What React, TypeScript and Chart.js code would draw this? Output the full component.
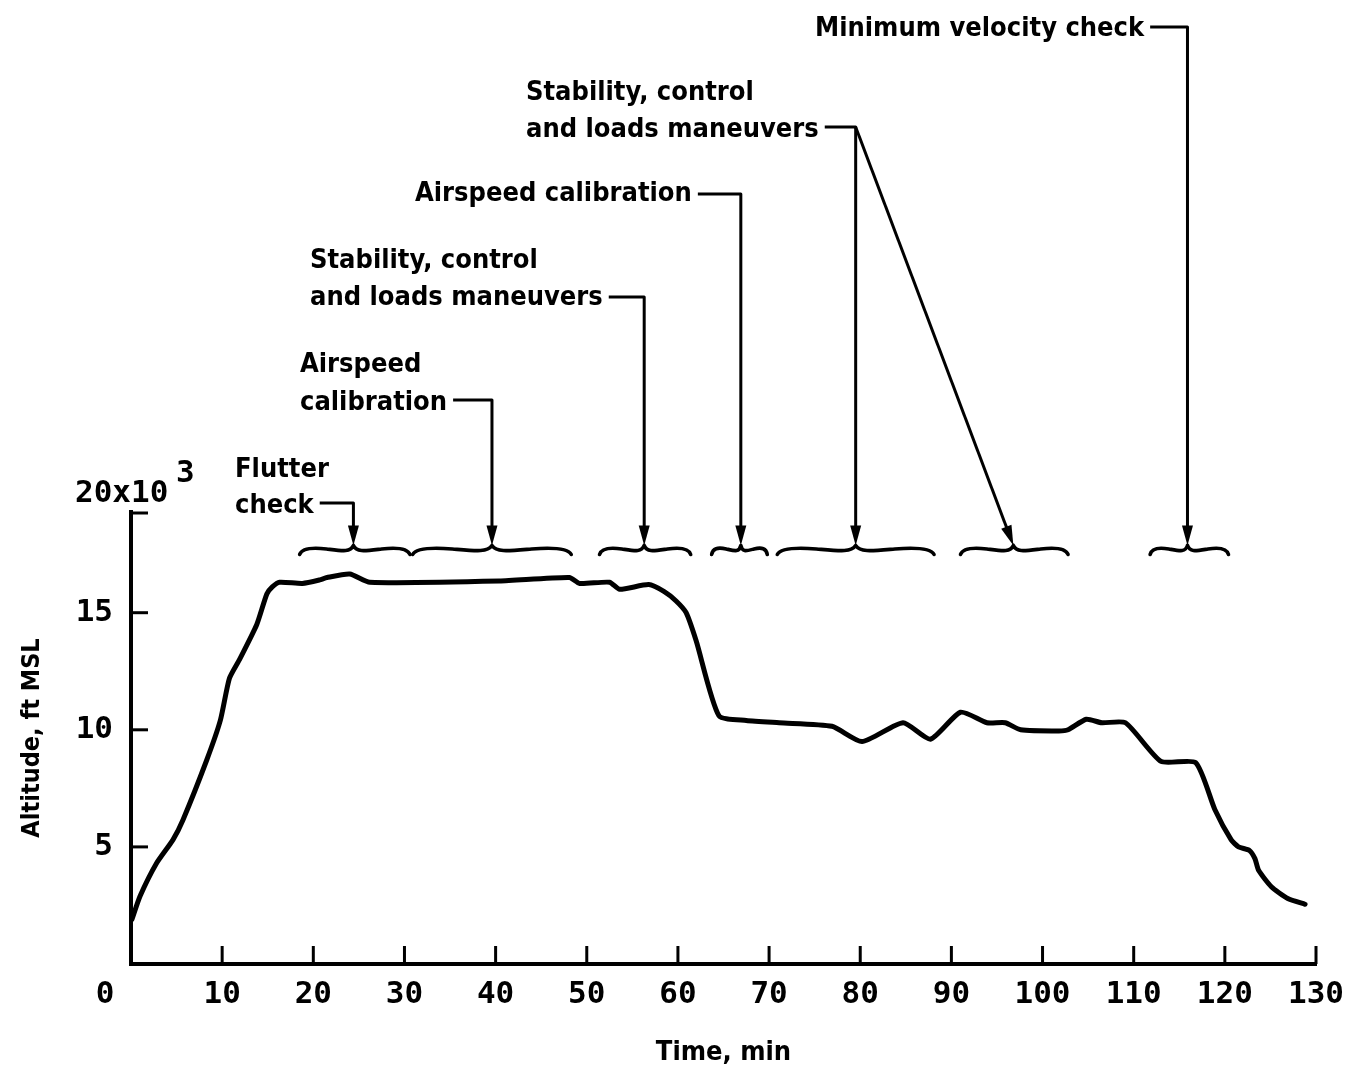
import React, { useEffect, useRef } from "react";
import { Chart, registerables } from "chart.js";

Chart.register(...registerables);

// ---- Data: flight altitude profile ----
const timeMin = [0.1, 1.0, 2.8, 4.6, 5.7, 8.3, 9.8, 10.8, 11.9, 13.8, 14.9, 15.5, 16.3, 18.8, 20.7, 21.5, 24.0, 26.2, 40.4, 48.1, 49.2, 52.5, 53.6, 56.8, 58.5, 59.8, 60.9, 62.0, 64.5, 67.5, 71.1, 76.9, 80.2, 84.7, 87.7, 91.0, 93.9, 95.9, 97.6, 101.8, 102.8, 104.8, 106.5, 109.1, 113.0, 116.8, 118.9, 120.7, 121.5, 122.7, 123.3, 123.7, 125.1, 126.9, 128.8];
const altitudeK = [1.9, 2.9, 4.3, 5.3, 6.15, 8.7, 10.4, 12.2, 13.0, 14.5, 15.8, 16.1, 16.3, 16.25, 16.4, 16.5, 16.65, 16.3, 16.35, 16.5, 16.25, 16.3, 16.0, 16.2, 15.9, 15.5, 15.0, 13.8, 10.6, 10.4, 10.3, 10.15, 9.5, 10.3, 9.6, 10.75, 10.3, 10.3, 10.0, 9.95, 10.0, 10.45, 10.3, 10.3, 8.65, 8.6, 6.6, 5.3, 5.0, 4.85, 4.5, 4.0, 3.3, 2.8, 2.55];

// Axis ranges / ticks
const xMin = 0;
const xMax = 130;
const xStep = 10;
const yMin = 0;
const yMax = 19.3;
const yStep = 5;
const yTopLabel = "20x10";
const yTopExponent = "3";
const xTitle = "Time, min";
const yTitle = "Altitude, ft MSL";

// Test-segment braces (minutes) and their altitude level (thousand ft)
const braceStart = [18.5, 30.9, 51.4, 63.7, 70.9, 91.0, 111.8];
const braceCenter = [24.4, 39.6, 56.3, 66.9, 79.5, 96.8, 115.9];
const braceEnd = [30.6, 48.3, 61.4, 69.8, 88.1, 102.8, 120.4];
const braceLevel = 17.7;

// Annotation labels and the brace centres (minutes) their arrows point to
const annotationLabels = [
  ["Flutter", "check"],
  ["Airspeed", "calibration"],
  ["Stability, control", "and loads maneuvers"],
  ["Airspeed calibration"],
  ["Stability, control", "and loads maneuvers"],
  ["Minimum velocity check"],
];
const annotationTargets = [[24.4], [39.6], [56.3], [66.9], [79.5, 96.8], [115.9]];

// Layout of the annotation text blocks (pixels)
const annotationLayout = [
  { x: 235, baseline: 477, lineGap: 36, leaderY: 503 },
  { x: 300, baseline: 372, lineGap: 38, leaderY: 400 },
  { x: 310, baseline: 268, lineGap: 37, leaderY: 297 },
  { x: 415, baseline: 201, lineGap: 37, leaderY: 194 },
  { x: 526, baseline: 100, lineGap: 37, leaderY: 127 },
  { x: 815, baseline: 36, lineGap: 37, leaderY: 27 },
];

const TEXT_FAMILY = "'DejaVu Sans Condensed', 'DejaVu Sans', sans-serif";
const TEXT_FONT = `bold 27px ${TEXT_FAMILY}`;
const MONO_FAMILY = "'DejaVu Sans Mono', monospace";

function arrowHead(ctx: CanvasRenderingContext2D, fx: number, fy: number, tx: number, ty: number) {
  const ang = Math.atan2(ty - fy, tx - fx);
  const len = 20;
  const hw = 5.5;
  const bx = tx - Math.cos(ang) * len;
  const by = ty - Math.sin(ang) * len;
  const nx = -Math.sin(ang);
  const ny = Math.cos(ang);
  ctx.beginPath();
  ctx.moveTo(tx, ty);
  ctx.lineTo(bx + nx * hw, by + ny * hw);
  ctx.lineTo(bx - nx * hw, by - ny * hw);
  ctx.closePath();
  ctx.fill();
}

const decorPlugin = {
  id: "decor",
  afterDraw(chart: any) {
    const { ctx, chartArea, scales } = chart;
    const xs = scales.x;
    const ys = scales.y;
    ctx.save();
    ctx.strokeStyle = "#000";
    ctx.fillStyle = "#000";

    // inward tick marks
    ctx.lineWidth = 3;
    ctx.lineCap = "butt";
    xs.ticks.forEach((t: any) => {
      if (t.value === xMin) return;
      const px = xs.getPixelForValue(t.value);
      ctx.beginPath();
      ctx.moveTo(px, chartArea.bottom);
      ctx.lineTo(px, chartArea.bottom - 18);
      ctx.stroke();
    });
    const yTickPx = ys.ticks.filter((t: any) => t.value !== yMin).map((t: any) => ys.getPixelForValue(t.value));
    yTickPx.push(chartArea.top + 1);
    yTickPx.forEach((py: number) => {
      ctx.beginPath();
      ctx.moveTo(chartArea.left, py);
      ctx.lineTo(chartArea.left + 17, py);
      ctx.stroke();
    });
    ctx.lineWidth = 4;
    ctx.beginPath();
    ctx.moveTo(chartArea.left, chartArea.top - 1);
    ctx.lineTo(chartArea.left, chartArea.bottom);
    ctx.stroke();

    // origin label and top multiplier label
    ctx.font = `bold 31px ${MONO_FAMILY}`;
    ctx.textAlign = "center";
    ctx.textBaseline = "middle";
    ctx.fillText(String(xMin), chartArea.left - 26, chartArea.bottom + 12 + 18.6);
    ctx.textAlign = "left";
    ctx.textBaseline = "alphabetic";
    ctx.fillText(yTopLabel, chartArea.left - 56, chartArea.top - 10);
    ctx.fillText(yTopExponent, chartArea.left + 45, chartArea.top - 30);

    // braces
    const by = ys.getPixelForValue(braceLevel);
    ctx.lineWidth = 3.6;
    ctx.lineCap = "round";
    ctx.lineJoin = "round";
    for (let i = 0; i < braceStart.length; i++) {
      const x0 = xs.getPixelForValue(braceStart[i]);
      const xc = xs.getPixelForValue(braceCenter[i]);
      const x1 = xs.getPixelForValue(braceEnd[i]);
      const half = (a: number, c: number) => {
        const w = c - a;
        ctx.moveTo(a, by + 5);
        ctx.bezierCurveTo(a + w * 0.04, by - 1, a + w * 0.2, by - 2.5, a + w * 0.5, by - 0.5);
        ctx.bezierCurveTo(a + w * 0.8, by + 1.5, c - w * 0.06, by + 3, c, by - 4);
      };
      ctx.beginPath();
      half(x0, xc);
      half(x1, xc);
      ctx.stroke();
    }

    // annotations
    ctx.font = TEXT_FONT;
    ctx.textAlign = "left";
    ctx.textBaseline = "alphabetic";
    ctx.lineWidth = 3;
    ctx.lineCap = "butt";
    const tipY = by - 4;
    annotationLabels.forEach((lines, i) => {
      const lay = annotationLayout[i];
      lines.forEach((ln, k) => ctx.fillText(ln, lay.x, lay.baseline + k * lay.lineGap));
      const last = lines[lines.length - 1];
      const endX = lay.x + ctx.measureText(last).width + 6;
      const targets = annotationTargets[i].map((v) => xs.getPixelForValue(v));
      const cornerX = targets[0];
      ctx.beginPath();
      ctx.moveTo(endX, lay.leaderY);
      ctx.lineTo(cornerX, lay.leaderY);
      ctx.lineTo(cornerX, tipY - 15);
      ctx.stroke();
      arrowHead(ctx, cornerX, lay.leaderY, cornerX, tipY);
      for (let k = 1; k < targets.length; k++) {
        const tx = targets[k];
        const ang = Math.atan2(tipY - lay.leaderY, tx - cornerX);
        ctx.beginPath();
        ctx.moveTo(cornerX, lay.leaderY);
        ctx.lineTo(tx - Math.cos(ang) * 15, tipY - Math.sin(ang) * 15);
        ctx.stroke();
        arrowHead(ctx, cornerX, lay.leaderY, tx, tipY);
      }
    });
    ctx.restore();
  },
};

export default function App() {
  const canvasRef = useRef<HTMLCanvasElement | null>(null);

  useEffect(() => {
    const canvas = canvasRef.current;
    if (!canvas) return;
    const chart = new Chart(canvas, {
      type: "line",
      data: {
        datasets: [
          {
            label: "Altitude",
            data: timeMin.map((t, i) => ({ x: t, y: altitudeK[i] })),
            borderColor: "#000",
            borderWidth: 5,
            pointRadius: 0,
            tension: 0.2,
            fill: false,
            borderCapStyle: "round",
            borderJoinStyle: "round",
          },
        ],
      },
      options: {
        animation: false,
        responsive: false,
        maintainAspectRatio: false,
        layout: { padding: { left: 8, right: 38, top: 512, bottom: 0 } },
        plugins: { legend: { display: false }, tooltip: { enabled: false } },
        scales: {
          x: {
            type: "linear",
            position: "bottom",
            min: xMin,
            max: xMax,
            grid: { display: false, drawTicks: false },
            border: { display: true, color: "#000", width: 4 },
            ticks: {
              stepSize: xStep,
              autoSkip: false,
              maxRotation: 0,
              padding: 12,
              color: "#000",
              font: { family: MONO_FAMILY, size: 31, weight: "bold" },
              callback: (v: any) => (Number(v) === xMin ? "" : String(v)),
            },
            title: {
              display: true,
              text: xTitle,
              color: "#000",
              font: { family: TEXT_FAMILY, size: 27, weight: "bold" },
              padding: { top: 0, bottom: 8 },
            },
            afterFit: (s: any) => {
              s.height = 113;
            },
          },
          y: {
            type: "linear",
            position: "left",
            min: yMin,
            max: yMax,
            grid: { display: false, drawTicks: false },
            border: { display: true, color: "#000", width: 4 },
            ticks: {
              stepSize: yStep,
              includeBounds: false,
              padding: 18,
              color: "#000",
              font: { family: MONO_FAMILY, size: 31, weight: "bold" },
              callback: (v: any) => (Number(v) === yMin ? "" : String(v)),
            },
            title: {
              display: true,
              text: yTitle,
              color: "#000",
              font: { family: TEXT_FAMILY, size: 25, weight: "bold" },
              padding: { top: 9, bottom: 0 },
            },
            afterFit: (s: any) => {
              s.width = 123;
            },
          },
        },
      },
      plugins: [decorPlugin],
    });
    return () => chart.destroy();
  }, []);

  return (
    <div style={{ position: "absolute", left: 0, top: 0, width: 1356, height: 1077, background: "#fff" }}>
      <canvas ref={canvasRef} width={1356} height={1077} style={{ display: "block", width: 1356, height: 1077 }} />
    </div>
  );
}
